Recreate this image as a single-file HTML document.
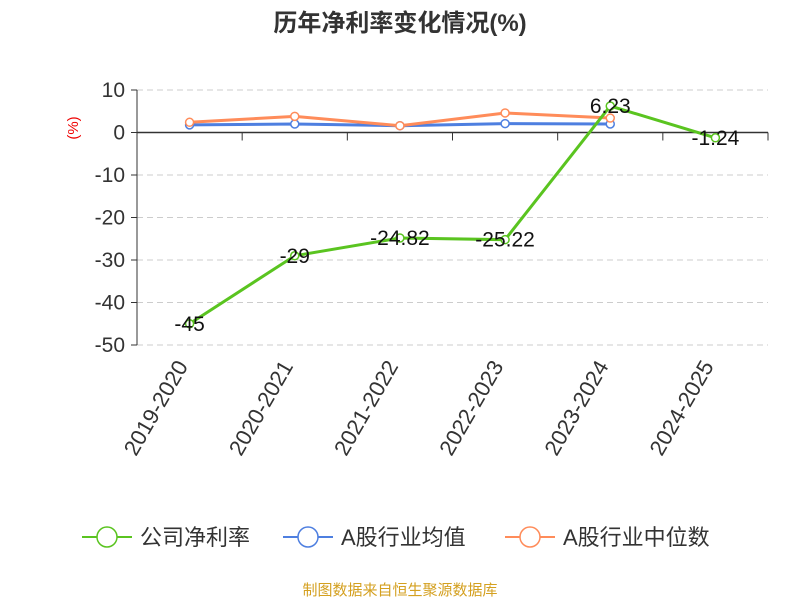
<!DOCTYPE html>
<html><head><meta charset="utf-8"><style>body{margin:0;background:#fff}svg{font-family:"Liberation Sans","Noto Sans CJK SC",sans-serif}</style></head>
<body>
<svg id="c" width="800" height="600">
<text x="400" y="31" text-anchor="middle" font-size="24" font-weight="bold" fill="#333">历年净利率变化情况(%)</text>
<text x="78" y="128" font-size="15" fill="#e00" transform="rotate(-90 78 128)" text-anchor="middle">(%)</text>
<g id="g"></g>
<text x="400" y="595" text-anchor="middle" font-size="15" fill="#d4a020">制图数据来自恒生聚源数据库</text>
</svg>
<script>
const categories=["2019-2020","2020-2021","2021-2022","2022-2023","2023-2024","2024-2025"];
const company=[-45,-29,-24.82,-25.22,6.23,-1.24];
const industryAvg=[1.8,2.0,1.6,2.1,2.0];
const industryMedian=[2.4,3.8,1.6,4.6,3.4];
const yTicks=[10,0,-10,-20,-30,-40,-50];
const L=137,R=768,yTop=90,yBot=345,vMax=10,vMin=-50;
const y=v=>yTop+(vMax-v)/(vMax-vMin)*(yBot-yTop);
const bw=(R-L)/categories.length;
const x=i=>L+bw*(i+0.5);
const g=document.getElementById('g');
const NS='http://www.w3.org/2000/svg';
function el(t,a,p){const e=document.createElementNS(NS,t);for(const k in a)e.setAttribute(k,a[k]);(p||g).appendChild(e);return e;}
yTicks.forEach(v=>{
 if(v!==0){const l=el('line',{x1:L,x2:R,y1:y(v),y2:y(v),stroke:'#ccc','stroke-dasharray':'6,4'});}
 const t=el('text',{x:L-12,y:y(v)+7,'text-anchor':'end','font-size':21,fill:'#333'});t.textContent=v;
 
 const tk=el('line',{x1:L-6,x2:L,y1:y(v),y2:y(v),stroke:'#333'});
});
let a=el('line',{x1:L,x2:L,y1:yTop,y2:yBot,stroke:'#333'});
a=el('line',{x1:L,x2:R,y1:y(0),y2:y(0),stroke:'#333','stroke-width':1.5});
for(let i=0;i<=categories.length;i++){const t=el('line',{x1:L+bw*i,x2:L+bw*i,y1:y(0),y2:y(0)+8,stroke:'#333'});}
categories.forEach((c,i)=>{const ax=x(i)-1,ay=366;const t=el('text',{x:ax,y:ay,'text-anchor':'end','font-size':22,fill:'#333',transform:`rotate(-60 ${ax} ${ay})`});t.textContent=c;
 });
function series(vals,color,name){
 const p=el('polyline',{points:vals.map((v,i)=>x(i)+','+y(v)).join(' '),fill:'none',stroke:color,'stroke-width':3});
 
 vals.forEach((v,i)=>{const c=el('circle',{cx:x(i),cy:y(v),r:4,fill:'#fff',stroke:color,'stroke-width':1.5});
  });
}
series(industryAvg,'#4e7fe0','industry-avg');
series(industryMedian,'#ff8c5a','industry-median');
series(company,'#5ac420','company');
company.forEach((v,i)=>{const t=el('text',{x:x(i),y:y(v)+7,'text-anchor':'middle','font-size':21,fill:'#111'});t.textContent=v;
 });
const leg=[["公司净利率",'#5ac420',82],["A股行业均值",'#4e7fe0',283],["A股行业中位数",'#ff8c5a',505]];
leg.forEach(([n,c,lx])=>{const gg=el('g',{});
 el('line',{x1:lx,x2:lx+50,y1:537,y2:537,stroke:c,'stroke-width':2},gg);
 el('circle',{cx:lx+25,cy:537,r:10,fill:'#fff',stroke:c,'stroke-width':1.5},gg);
 const t=el('text',{x:lx+58,y:545,'font-size':22,fill:'#333'},gg);t.textContent=n;});
</script>
</body></html>
